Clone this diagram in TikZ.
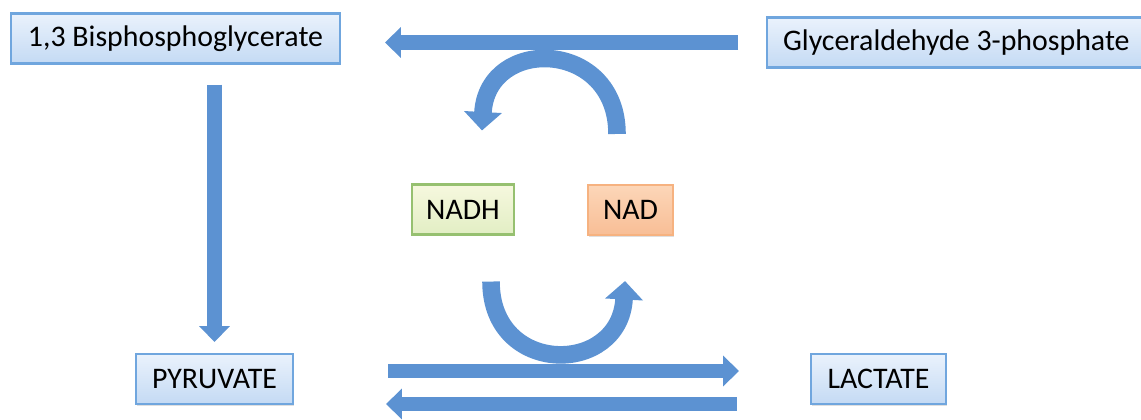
\documentclass[tikz,border=0pt]{standalone}
\usepackage{fontspec}
\setmainfont{Carlito}
\usetikzlibrary{arrows.meta,calc,shadows}
\definecolor{arrowblue}{RGB}{92,146,210}
\definecolor{boxtop}{RGB}{234,242,252}
\definecolor{boxbot}{RGB}{196,218,244}
\definecolor{boxline}{RGB}{112,166,222}
\definecolor{nadhtop}{RGB}{246,248,222}
\definecolor{nadhbot}{RGB}{226,238,196}
\definecolor{nadhline}{RGB}{150,192,112}
\definecolor{nadtop}{RGB}{252,214,184}
\definecolor{nadbot}{RGB}{248,190,150}
\definecolor{nadline}{RGB}{246,178,128}
\tikzset{
  compound/.style={draw=boxline, line width=1.2pt, top color=boxtop, bottom color=boxbot,
    minimum height=1cm, inner sep=0pt, font=\fontsize{17}{20}\selectfont,
    drop shadow={opacity=0.25, shadow xshift=0.6pt, shadow yshift=-1pt}},
  fatarrow/.style={draw=arrowblue, line width=8.5pt, -{Triangle[width=17pt,length=9pt]}},
  bendarrow/.style={draw=arrowblue, line width=10pt, -{Triangle[width=21pt,length=10.5pt]}}
}
\begin{document}
\begin{tikzpicture}[x=0.02cm, y=-0.02cm]
  \useasboundingbox (0,0) rectangle (1141,419);
  \clip (0,0) rectangle (1141,419);

  \node[compound, minimum width=6.58cm] (bpg) at (175.5,38.5) {1,3 Bisphosphoglycerate};
  \node[compound, anchor=west, inner xsep=0.32cm] (g3p) at (766,42.5) {Glyceraldehyde 3-phosphate};
  \node[compound, minimum width=2.04cm, draw=nadhline, top color=nadhtop, bottom color=nadhbot] (nadh) at (463,209.5) {NADH};
  \node[compound, minimum width=1.7cm, draw=nadline, top color=nadtop, bottom color=nadbot] (nad) at (630.5,210) {NAD};
  \node[compound, minimum width=3.14cm] (pyr) at (214.5,379) {PYRUVATE};
  \node[compound, minimum width=2.7cm] (lac) at (878.5,379) {LACTATE};

  % straight arrows
  \draw[fatarrow, shorten <=0.56cm, shorten >=0.88cm] (g3p.west) -- (g3p.west -| bpg.east);
  \draw[fatarrow, shorten <=0.4cm, shorten >=0.22cm] (bpg.south -| pyr.north) -- (pyr.north);
  \draw[fatarrow] ($(pyr.east)+(94,-8)$) -- ($(lac.west)+(-71,-8)$);
  \draw[fatarrow] ($(lac.west)+(-73,25)$) -- ($(pyr.east)+(92,25)$);

  % NAD / NADH cycle
  \draw[bendarrow] ($(nad.north)+(-13.5,-50)$) .. controls +(0,-95) and +(5,-95) .. ($(nadh.north)+(19,-53)$);
  \draw[bendarrow] ($(nadh.south)+(28,46)$) .. controls +(0,95) and +(-5,95) .. ($(nad.south)+(-5.5,45)$);
\end{tikzpicture}
\end{document}
